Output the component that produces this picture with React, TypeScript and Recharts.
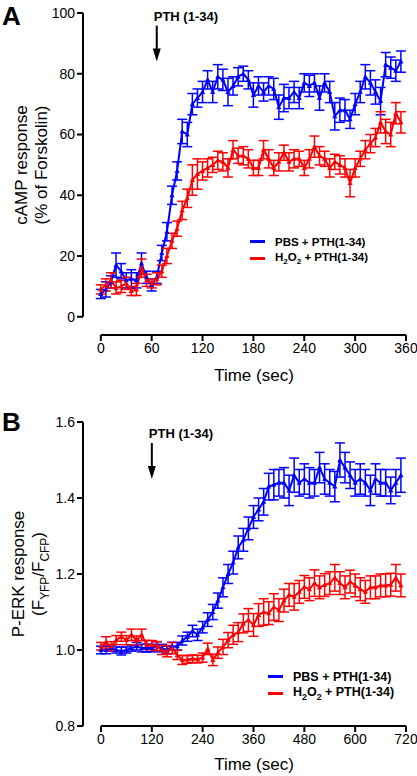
import React from 'react';
import { LineChart, Line, XAxis, YAxis, ErrorBar, ReferenceLine, ReferenceDot } from 'recharts';

const FONT = '"Liberation Sans", Arial, Helvetica, sans-serif';
const BLUE = '#0000ff';
const RED = '#ff0000';

// Panel A: cAMP response, one point every 6 s
const timeA = [0, 6, 12, 18, 24, 30, 36, 42, 48, 54, 60, 66, 72, 78, 84, 90, 96, 102, 108, 114,
  120, 126, 132, 138, 144, 150, 156, 162, 168, 174, 180, 186, 192, 198, 204, 210, 216, 222, 228, 234,
  240, 246, 252, 258, 264, 270, 276, 282, 288, 294, 300, 306, 312, 318, 324, 330, 336, 342, 348, 354];
const pbsA = [7.5, 9, 11.5, 17, 15, 12, 12.5, 12, 17.5, 13, 10.5, 13, 21, 28, 40, 48, 61, 60, 70, 72,
  74, 78, 74, 79, 78, 74, 76, 79, 80, 78, 73, 76, 74, 76, 75, 69, 72, 72, 74, 72,
  77, 76, 77, 72, 77, 74, 66, 68, 68, 65, 70, 74, 79, 77, 74, 71, 83, 82, 81, 84];
const pbsErrA = [1.5, 2.5, 2, 4, 2.5, 2.5, 3, 2.5, 3.5, 2, 2, 2, 2.5, 3, 3, 3, 4, 4, 3.5, 3,
  3.5, 3, 3.5, 4, 3.5, 4.5, 3, 3, 2.5, 3, 4, 3, 3, 3, 3.5, 4, 4.5, 3.5, 3.5, 3.5,
  3, 3.5, 3, 4, 3, 3.5, 4.5, 4, 3.5, 3, 3.5, 3.5, 4, 4, 4, 4.5, 4, 3.5, 3.5, 3.5];
const h2o2A = [9, 10.5, 12, 9.5, 10, 11, 8.5, 9, 16, 12, 11, 12.5, 15, 20, 25, 29, 35, 39, 45, 47,
  48, 49, 50, 51.5, 51, 49, 55, 53, 53, 52, 49, 49, 55, 52, 49, 51, 54, 51, 52, 52,
  49, 52, 56, 53, 52, 49, 51, 50, 49, 44, 49, 52, 55, 57, 59, 64, 61, 60, 67, 64];
const h2o2ErrA = [1.5, 2, 2.5, 2, 2, 2, 1.5, 2, 3, 2, 1.5, 2, 2, 2.5, 2.5, 2.5, 3, 3, 5, 5,
  3, 3, 2.5, 3, 3, 3, 3, 2.5, 3, 3, 2.5, 2.5, 3, 3, 2.5, 3, 2.5, 3, 3, 2.5,
  2.5, 3, 3.5, 3, 2.5, 3, 2.5, 3, 3, 4.5, 3, 2.5, 3, 3, 3, 3.5, 4, 4, 3.5, 3.5];
const ticksXA = [0, 60, 120, 180, 240, 300, 360];
const ticksYA = [0, 20, 40, 60, 80, 100];

// Panel B: P-ERK response, one point every 12 s
const timeB = [0, 12, 24, 36, 48, 60, 72, 84, 96, 108, 120, 132, 144, 156, 168, 180, 192, 204, 216, 228,
  240, 252, 264, 276, 288, 300, 312, 324, 336, 348, 360, 372, 384, 396, 408, 420, 432, 444, 456, 468,
  480, 492, 504, 516, 528, 540, 552, 564, 576, 588, 600, 612, 624, 636, 648, 660, 672, 684, 696, 708];
const pbsB = [1.0, 1.0, 1.005, 1.0, 0.997, 1.0, 1.005, 1.01, 1.005, 1.005,
  1.005, 1.01, 1.005, 1.0, 1.01, 1.01, 1.025, 1.035, 1.05, 1.04,
  1.06, 1.08, 1.1, 1.13, 1.165, 1.2, 1.23, 1.27, 1.29, 1.32,
  1.35, 1.37, 1.39, 1.43, 1.435, 1.44, 1.44, 1.42, 1.46, 1.44,
  1.45, 1.44, 1.44, 1.48, 1.45, 1.44, 1.43, 1.5, 1.48, 1.46,
  1.44, 1.45, 1.44, 1.42, 1.45, 1.44, 1.44, 1.42, 1.44, 1.46];
const pbsErrB = [0.01, 0.01, 0.008, 0.008, 0.01, 0.008, 0.008, 0.01, 0.01, 0.01,
  0.01, 0.012, 0.01, 0.01, 0.01, 0.01, 0.012, 0.012, 0.015, 0.015,
  0.015, 0.018, 0.02, 0.02, 0.025, 0.025, 0.03, 0.03, 0.03, 0.03,
  0.03, 0.03, 0.035, 0.035, 0.04, 0.035, 0.04, 0.04, 0.045, 0.035,
  0.04, 0.04, 0.035, 0.04, 0.04, 0.035, 0.04, 0.045, 0.04, 0.035,
  0.035, 0.04, 0.035, 0.04, 0.04, 0.035, 0.035, 0.035, 0.035, 0.045];
const h2o2B = [1.01, 1.02, 1.01, 1.026, 1.035, 1.026, 1.04, 1.025, 1.04, 1.013,
  1.013, 1.01, 1.0, 0.997, 1.005, 0.987, 0.974, 0.975, 0.977, 0.976,
  0.98, 1.003, 0.974, 0.993, 1.008, 1.026, 1.04, 1.047, 1.07, 1.079,
  1.066, 1.092, 1.1, 1.097, 1.113, 1.105, 1.13, 1.145, 1.14, 1.153,
  1.166, 1.16, 1.176, 1.165, 1.171, 1.176, 1.19, 1.176, 1.165, 1.18,
  1.17, 1.16, 1.153, 1.165, 1.165, 1.17, 1.17, 1.172, 1.19, 1.17];
const h2o2ErrB = [0.01, 0.015, 0.012, 0.012, 0.012, 0.012, 0.015, 0.012, 0.015, 0.012,
  0.012, 0.012, 0.012, 0.015, 0.015, 0.012, 0.012, 0.01, 0.01, 0.01,
  0.012, 0.015, 0.015, 0.015, 0.02, 0.02, 0.025, 0.025, 0.025, 0.03,
  0.03, 0.03, 0.035, 0.03, 0.035, 0.03, 0.03, 0.03, 0.035, 0.03,
  0.03, 0.03, 0.035, 0.03, 0.03, 0.03, 0.035, 0.03, 0.03, 0.03,
  0.03, 0.03, 0.03, 0.03, 0.03, 0.03, 0.03, 0.03, 0.035, 0.03];
const ticksXB = [0, 120, 240, 360, 480, 600, 720];
const ticksYB = [0.8, 1.0, 1.2, 1.4, 1.6];

const dataA = timeA.map((t, i) => ({ t, pbs: pbsA[i], pbsErr: pbsErrA[i], h2o2: h2o2A[i], h2o2Err: h2o2ErrA[i] }));
const dataB = timeB.map((t, i) => ({ t, pbs: pbsB[i], pbsErr: pbsErrB[i], h2o2: h2o2B[i], h2o2Err: h2o2ErrB[i] }));

const tickStyle = { fill: '#000', fontSize: 14, fontFamily: FONT };
const tickLineStyle = { stroke: '#000', strokeWidth: 2 };

const triDot = (color: string) => (props: any) => {
  const { cx, cy, index } = props;
  if (cx == null || cy == null) return <g key={`e-${index}`} />;
  return (
    <path key={`tri-${index}`} d={`M${cx},${cy - 2.8}L${cx + 2.6},${cy + 2}L${cx - 2.6},${cy + 2}Z`} fill={color} />
  );
};

// arrow + "PTH (1-34)" text, anchored at arrow tip
const PthMarker = (props: any) => {
  const { cx, cy } = props;
  return (
    <g>
      <line x1={cx} y1={cy - 36} x2={cx} y2={cy - 11} stroke="#000" strokeWidth={2} />
      <path d={`M${cx - 4},${cy - 13}L${cx + 4},${cy - 13}L${cx},${cy}Z`} fill="#000" />
      <text x={cx - 3} y={cy - 41} fontSize={13} fontWeight="bold" fontFamily={FONT} fill="#000">PTH (1-34)</text>
    </g>
  );
};

const LegendBox = ({ left, top, size }: { left: number; top: number; size: number }) => (
  <div style={{ position: 'absolute', left, top, fontFamily: FONT, fontWeight: 'bold', fontSize: size, color: '#000' }}>
    <div style={{ display: 'flex', alignItems: 'center', height: 17 }}>
      <span style={{ width: 15, height: 3, background: BLUE, marginRight: 10 }} />
      <span>PBS + PTH(1-34)</span>
    </div>
    <div style={{ display: 'flex', alignItems: 'center', height: 17 }}>
      <span style={{ width: 15, height: 3, background: RED, marginRight: 10 }} />
      <span>H<sub style={{ fontSize: '0.7em' }}>2</sub>O<sub style={{ fontSize: '0.7em' }}>2</sub> + PTH(1-34)</span>
    </div>
  </div>
);

const YTitle = ({ cx, cy, children }: { cx: number; cy: number; children: React.ReactNode }) => (
  <div style={{
    position: 'absolute', left: cx, top: cy, width: 220, transform: 'translate(-50%, -50%) rotate(-90deg)',
    textAlign: 'center', fontFamily: FONT, fontSize: 17, lineHeight: '20px', color: '#000',
  }}>{children}</div>
);

const XTitle = ({ top }: { top: number }) => (
  <div style={{ position: 'absolute', left: 154, width: 200, top, textAlign: 'center', fontFamily: FONT, fontSize: 17, lineHeight: '20px', color: '#000' }}>
    Time (sec)
  </div>
);

const PanelLetter = ({ top, letter }: { top: number; letter: string }) => (
  <div style={{ position: 'absolute', left: 2, top, fontFamily: FONT, fontWeight: 'bold', fontSize: 26, lineHeight: '32px', color: '#000' }}>{letter}</div>
);

export default function App() {
  return (
    <div style={{ position: 'absolute', left: 0, top: 0, width: 417, height: 776, background: '#fff', overflow: 'hidden' }}>
      <div style={{ position: 'absolute', left: 0, top: 0 }}>
        <LineChart width={417} height={390} data={dataA} margin={{ top: 13, right: 11, bottom: 0, left: 0 }}>
          <XAxis type="number" dataKey="t" domain={[-21, 360]} ticks={ticksXA} axisLine={false}
            tick={tickStyle} tickLine={tickLineStyle} tickSize={6} height={55} />
          <YAxis type="number" domain={[-6, 100]} ticks={ticksYA} axisLine={false}
            tick={tickStyle} tickLine={tickLineStyle} tickSize={6} width={83} />
          <ReferenceLine segment={[{ x: -21, y: 0 }, { x: -21, y: 100 }]} stroke="#000" strokeWidth={2} />
          <ReferenceLine segment={[{ x: 0, y: -6 }, { x: 360, y: -6 }]} stroke="#000" strokeWidth={2} />
          <Line dataKey="pbs" stroke={BLUE} strokeWidth={2} dot={triDot(BLUE)} isAnimationActive={false}>
            <ErrorBar dataKey="pbsErr" direction="y" width={5} stroke={BLUE} strokeWidth={1.5} />
          </Line>
          <Line dataKey="h2o2" stroke={RED} strokeWidth={2} dot={triDot(RED)} isAnimationActive={false}>
            <ErrorBar dataKey="h2o2Err" direction="y" width={5} stroke={RED} strokeWidth={1.5} />
          </Line>
          <ReferenceDot x={66} y={84} r={0} shape={PthMarker} />
        </LineChart>
      </div>
      <div style={{ position: 'absolute', left: 0, top: 390 }}>
        <LineChart width={417} height={386} data={dataB} margin={{ top: 32, right: 11, bottom: 0, left: 0 }}>
          <XAxis type="number" dataKey="t" domain={[-42.5, 720]} ticks={ticksXB} axisLine={false}
            tick={tickStyle} tickLine={tickLineStyle} tickSize={6} height={50} />
          <YAxis type="number" domain={[0.8, 1.6]} ticks={ticksYB} axisLine={false}
            tick={tickStyle} tickLine={tickLineStyle} tickSize={6} width={83}
            tickFormatter={(v: number) => v.toFixed(1)} />
          <ReferenceLine segment={[{ x: -42.5, y: 0.8 }, { x: -42.5, y: 1.6 }]} stroke="#000" strokeWidth={2} />
          <ReferenceLine segment={[{ x: 0, y: 0.8 }, { x: 720, y: 0.8 }]} stroke="#000" strokeWidth={2} />
          <Line dataKey="pbs" stroke={BLUE} strokeWidth={2} dot={triDot(BLUE)} isAnimationActive={false}>
            <ErrorBar dataKey="pbsErr" direction="y" width={5} stroke={BLUE} strokeWidth={1.5} />
          </Line>
          <Line dataKey="h2o2" stroke={RED} strokeWidth={2} dot={triDot(RED)} isAnimationActive={false}>
            <ErrorBar dataKey="h2o2Err" direction="y" width={5} stroke={RED} strokeWidth={1.5} />
          </Line>
          <ReferenceDot x={120} y={1.45} r={0} shape={PthMarker} />
        </LineChart>
      </div>

      <PanelLetter top={0} letter="A" />
      <PanelLetter top={406} letter="B" />
      <YTitle cx={32} cy={165}>cAMP response<br />(% of Forskolin)</YTitle>
      <YTitle cx={32} cy={574}>
        P-ERK response<br />(F<sub style={{ fontSize: '0.7em' }}>YFP</sub>/F<sub style={{ fontSize: '0.7em' }}>CFP</sub>)
      </YTitle>
      <XTitle top={366} />
      <XTitle top={755} />
      <LegendBox left={250} top={233} size={11.5} />
      <LegendBox left={268} top={668} size={12.5} />
    </div>
  );
}
